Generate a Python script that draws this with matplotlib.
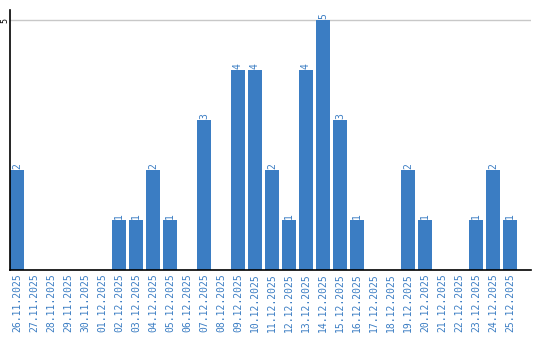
import matplotlib
matplotlib.use("Agg")
import matplotlib.pyplot as plt

dates = ["26.11.2025", "27.11.2025", "28.11.2025", "29.11.2025", "30.11.2025",
         "01.12.2025", "02.12.2025", "03.12.2025", "04.12.2025", "05.12.2025",
         "06.12.2025", "07.12.2025", "08.12.2025", "09.12.2025", "10.12.2025",
         "11.12.2025", "12.12.2025", "13.12.2025", "14.12.2025", "15.12.2025",
         "16.12.2025", "17.12.2025", "18.12.2025", "19.12.2025", "20.12.2025",
         "21.12.2025", "22.12.2025", "23.12.2025", "24.12.2025", "25.12.2025"]
counts = [2, 0, 0, 0, 0, 0, 1, 1, 2, 1, 0, 3, 0, 4, 4,
          2, 1, 4, 5, 3, 1, 0, 0, 2, 1, 0, 0, 1, 2, 1]

blue = "#3b7dc3"

fig = plt.figure(figsize=(5.4, 3.4), dpi=100)
ax = fig.add_axes([10 / 540, 70 / 340, 521 / 540, 260 / 340])

x = range(len(dates))
ax.bar(x, counts, width=0.82, color=blue, zorder=2)

# value labels above the bars
for i, v in zip(x, counts):
    if v > 0:
        ax.annotate(str(v), (i, v), xytext=(0, 1), textcoords="offset points",
                    rotation=90, ha="center", va="bottom", fontsize=7,
                    color=blue, family="DejaVu Sans Mono", zorder=4)

ax.set_xlim(-0.41, 30.24)
ax.set_ylim(0, 5.2)
ax.set_xticks(list(x))
ax.set_xticklabels(dates, rotation=90, fontsize=7, color=blue,
                   family="DejaVu Sans Mono")
ax.set_yticks([5])
ax.set_yticklabels([""])
# the single y tick label, drawn inside the left margin
ax.text(-5 / 521, 5, "5", transform=ax.get_yaxis_transform(), rotation=90,
        ha="center", va="center", fontsize=6, family="DejaVu Sans Mono")
ax.tick_params(length=0, pad=2)
ax.yaxis.grid(True, color="#c8c8c8", linewidth=1, zorder=0)

for s in ["top", "right"]:
    ax.spines[s].set_visible(False)
ax.spines["left"].set_color("black")
ax.spines["bottom"].set_color("black")
ax.spines["left"].set_linewidth(1.2)
ax.spines["bottom"].set_linewidth(1.2)

fig.savefig("out.png", dpi=100)
